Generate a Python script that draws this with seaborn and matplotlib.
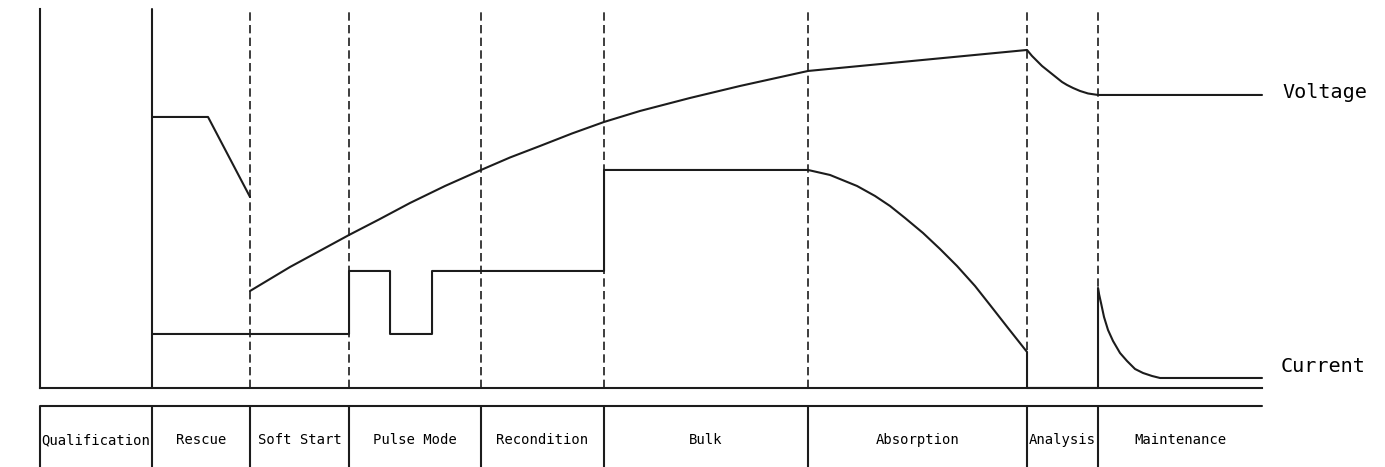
import numpy as np
import pandas as pd
import matplotlib.pyplot as plt
import seaborn as sns

# Charging stages and their boundaries (time units, schematic)
stages = ['Qualification', 'Rescue', 'Soft Start', 'Pulse Mode', 'Recondition',
          'Bulk', 'Absorption', 'Analysis', 'Maintenance']
bounds = [0.0, 11.2, 21.0, 30.9, 44.1, 56.4, 76.8, 98.7, 105.8, 122.2]

# Voltage during the rescue stage
rescue_t = [11.2, 16.8, 21.0]
rescue_v = [27.1, 27.1, 19.1]

# Voltage from soft start through maintenance
volt_t = [21.0, 25.0, 30.9, 33.9, 37.0, 40.5, 44.1, 47.0, 50.0, 53.2, 56.4,
          60.0, 65.0, 70.0, 76.8,
          98.7, 99.2, 99.7, 100.2, 100.7, 101.2, 101.7, 102.2, 102.7, 103.3,
          104.0, 104.8, 105.8, 122.2]
volt_v = [9.7, 12.1, 15.3, 16.85, 18.5, 20.2, 21.8, 23.05, 24.2, 25.45, 26.6,
          27.7, 29.0, 30.2, 31.7,
          33.8, 33.2, 32.7, 32.2, 31.8, 31.4, 31.0, 30.6, 30.3, 30.0,
          29.7, 29.45, 29.3, 29.3]

# Charging current
curr_t = [11.2, 30.9, 30.9, 35.0, 35.0, 39.2, 39.2, 56.4, 56.4, 76.8,
          79.0, 81.7, 83.5, 85.0, 86.5, 88.3, 90.0, 91.7, 93.5, 95.0, 96.8, 98.7,
          98.7, 105.8, 105.8,
          105.9, 106.1, 106.4, 106.8, 107.3, 108.0, 108.7, 109.5, 110.3, 111.2,
          112.0, 122.2]
curr_c = [5.4, 5.4, 11.7, 11.7, 5.4, 5.4, 11.7, 11.7, 21.8, 21.8,
          21.3, 20.2, 19.2, 18.2, 17.0, 15.5, 13.9, 12.2, 10.2, 8.3, 6.0, 3.6,
          0.0, 0.0, 10.0,
          9.4, 8.5, 7.1, 5.8, 4.7, 3.5, 2.7, 1.9, 1.5, 1.2,
          1.0, 1.0]

sns.set_style('white')
plt.rcParams['font.family'] = ['DejaVu Sans Mono', 'DejaVu Sans']

ink = '#1c1c1c'
lw = 1.5

fig = plt.figure(figsize=(13.85, 4.67), dpi=100)
ax = fig.add_axes([0.0289, 0.1692, 0.8823, 0.8116])
tab = fig.add_axes([0.0289, 0.0, 0.8823, 0.1306])

# stage separators
ax.axvline(bounds[1], color=ink, lw=lw)
for b in bounds[2:-1]:
    ax.axvline(b, color=ink, lw=1.2, linestyle=(0, (5, 2.6)))

# curves
sns.lineplot(x=rescue_t, y=rescue_v, ax=ax, color=ink, lw=lw, sort=False, estimator=None)
sns.lineplot(x=volt_t, y=volt_v, ax=ax, color=ink, lw=lw, sort=False, estimator=None)
sns.lineplot(x=curr_t, y=curr_c, ax=ax, color=ink, lw=lw, sort=False, estimator=None)
for line in ax.get_lines():
    line.set_clip_on(False)

ax.set_xlim(bounds[0], bounds[-1])
ax.set_ylim(0, 37.9)
ax.set_xticks([])
ax.set_yticks([])
ax.set_xlabel('')
ax.set_ylabel('')
sns.despine(ax=ax)
for s in ['left', 'bottom']:
    ax.spines[s].set_color(ink)
    ax.spines[s].set_linewidth(lw)

ax.text(bounds[-1] + 2.0, volt_v[-1] + 0.2, 'Voltage', ha='left', va='center',
        fontsize=14.5, color='black', clip_on=False)
ax.text(bounds[-1] + 1.9, curr_c[-1] + 1.1, 'Current', ha='left', va='center',
        fontsize=14.5, color='black', clip_on=False)

# stage table below the chart
tab.set_xlim(bounds[0], bounds[-1])
tab.set_ylim(0, 1)
tab.axis('off')
tab.plot([bounds[0], bounds[-1]], [1, 1], color=ink, lw=lw, clip_on=False)
tab.vlines(bounds[:-1], 0, 1, color=ink, lw=lw, clip_on=False)
for i, name in enumerate(stages):
    mid = (bounds[i] + bounds[i + 1]) / 2
    tab.text(mid, 0.44, name, ha='center', va='center', fontsize=10, color='black')

fig.savefig('out.png', dpi=100)
